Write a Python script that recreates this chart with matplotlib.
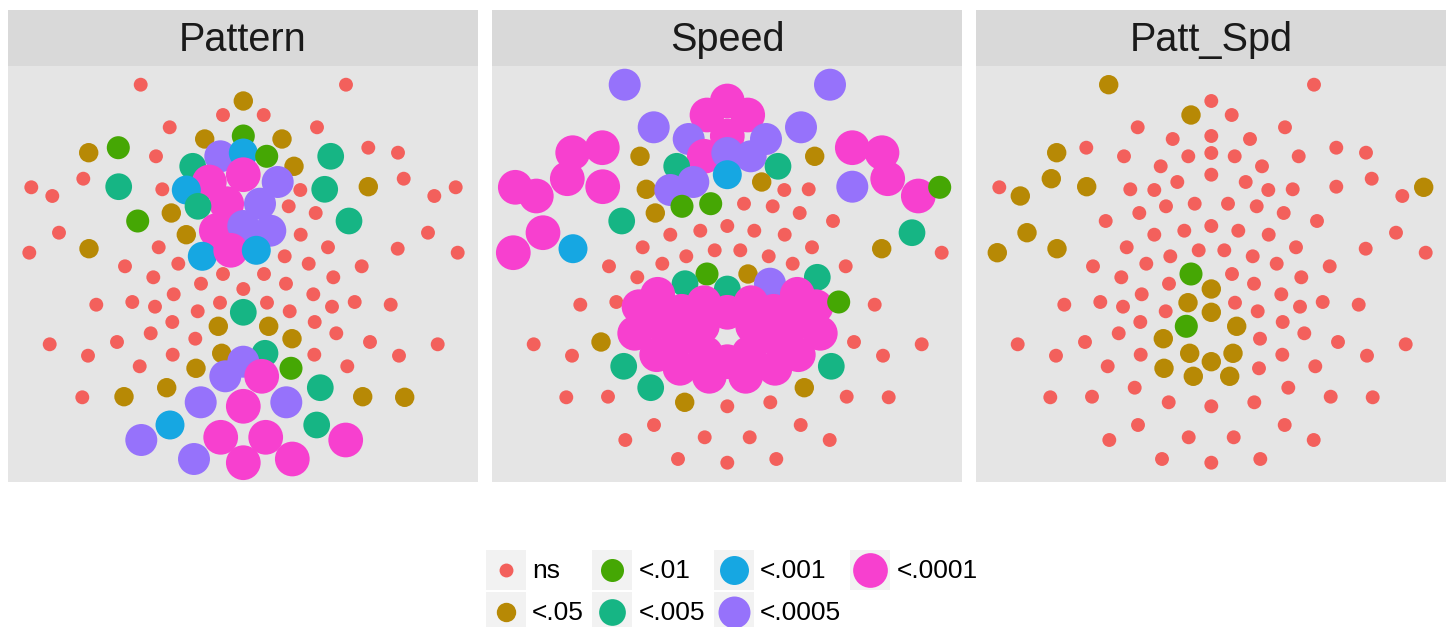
import matplotlib
matplotlib.use('Agg')
import matplotlib.pyplot as plt
from matplotlib.patches import Rectangle

plt.rcParams['font.family'] = ['Liberation Sans', 'DejaVu Sans']

# significance levels, colours and point sizes (pt^2)
levels = ['ns', '<.05', '<.01', '<.005', '<.001', '<.0005', '<.0001']
colors = ['#F3605C', '#B78905', '#45A704', '#16B584', '#16A7E2', '#9672FB', '#F740CF']
sizes = [100, 195, 275, 370, 435, 530, 625]

panels = ['Pattern', 'Speed', 'Patt_Spd']

# electrode layout (128 sites), x to the right, y downwards
elec_x = [132.7, 338.0, 235.3, 215.0, 255.7, 161.7, 309.0, 196.7, 235.3, 274.0,
          80.7, 110.3, 360.3, 390.0, 148.0, 212.3, 235.3, 258.7, 322.7, 184.7,
          286.0, 235.3, 75.3, 395.7, 201.3, 269.7, 23.3, 44.3, 110.7, 154.3,
          178.3, 292.3, 316.7, 360.3, 426.3, 447.7, 218.7, 252.0, 190.0, 280.7,
          163.3, 307.7, 129.7, 341.0, 51.0, 420.0, 178.3, 208.3, 235.3, 262.3,
          292.7, 21.3, 81.0, 150.7, 320.0, 389.7, 449.7, 194.3, 222.7, 248.3,
          276.7, 117.0, 170.3, 300.7, 353.7, 215.0, 256.0, 145.3, 325.3, 193.0,
          278.0, 235.3, 165.7, 305.3, 88.3, 124.3, 147.0, 212.0, 259.0, 324.0,
          346.7, 382.7, 189.7, 235.3, 281.7, 164.3, 306.7, 210.3, 260.7, 142.7,
          328.3, 187.3, 284.0, 41.7, 109.0, 362.0, 429.7, 80.0, 164.7, 213.7,
          257.0, 306.3, 391.0, 235.3, 131.7, 188.0, 283.0, 339.3, 217.3, 253.7,
          158.7, 312.3, 74.3, 116.0, 354.7, 396.7, 192.7, 235.3, 278.3, 162.0,
          308.7, 133.3, 212.7, 257.7, 337.7, 186.0, 235.3, 284.3]
elec_y = [18.7, 18.7, 35.0, 49.0, 49.0, 61.3, 61.3, 73.0, 70.0, 73.0,
          86.7, 81.7, 81.7, 86.7, 90.3, 90.3, 87.0, 90.3, 90.3, 100.3,
          100.3, 108.7, 112.7, 112.7, 116.0, 116.0, 121.3, 130.0, 120.7, 123.3,
          124.0, 124.0, 123.3, 120.7, 130.0, 121.3, 137.7, 137.7, 140.3, 140.3,
          147.0, 147.0, 155.0, 155.0, 166.7, 166.7, 168.7, 164.7, 160.0, 164.7,
          168.7, 186.7, 182.7, 181.3, 181.3, 182.7, 186.7, 190.3, 184.3, 184.3,
          190.3, 200.3, 197.7, 197.7, 200.3, 208.0, 208.0, 211.3, 211.3, 217.7,
          217.7, 223.0, 228.3, 228.3, 238.7, 236.0, 240.7, 236.7, 236.7, 240.7,
          236.0, 238.7, 245.3, 246.3, 245.3, 256.0, 256.0, 260.3, 260.3, 267.3,
          267.3, 272.7, 272.7, 278.3, 276.0, 276.0, 278.3, 289.7, 288.7, 287.3,
          287.3, 288.7, 289.7, 295.7, 300.3, 302.3, 302.3, 300.3, 310.3, 310.3,
          321.7, 321.7, 331.3, 330.7, 330.7, 331.3, 336.3, 340.3, 336.3, 359.0,
          359.0, 374.0, 371.3, 371.3, 374.0, 393.0, 396.7, 393.0]

# level index per electrode for each panel
pattern_sig = [0, 0, 1, 0, 0, 0, 0, 1, 2, 1,
               1, 2, 0, 0, 0, 5, 4, 2, 3, 3,
               1, 6, 0, 0, 6, 5, 0, 0, 3, 0,
               4, 0, 3, 1, 0, 0, 6, 5, 3, 0,
               1, 0, 2, 3, 0, 0, 1, 6, 5, 5,
               0, 0, 1, 0, 0, 0, 0, 4, 6, 4,
               0, 0, 0, 0, 0, 0, 0, 0, 0, 0,
               0, 0, 0, 0, 0, 0, 0, 0, 0, 0,
               0, 0, 0, 3, 0, 0, 0, 1, 1, 0,
               0, 0, 1, 0, 0, 0, 0, 0, 0, 1,
               3, 0, 0, 5, 0, 1, 2, 0, 5, 6,
               1, 3, 0, 1, 1, 1, 5, 6, 5, 4,
               3, 5, 6, 6, 6, 5, 6, 6]
speed_sig = [5, 5, 6, 6, 6, 5, 5, 5, 6, 5,
             6, 6, 6, 6, 1, 6, 5, 5, 1, 3,
             3, 4, 6, 6, 5, 1, 6, 6, 6, 1,
             5, 0, 0, 5, 6, 2, 2, 0, 2, 0,
             1, 0, 3, 0, 6, 3, 0, 0, 0, 0,
             0, 6, 4, 0, 0, 1, 0, 0, 0, 0,
             0, 0, 0, 0, 0, 2, 1, 0, 3, 3,
             5, 3, 6, 6, 0, 0, 6, 6, 6, 6,
             2, 0, 6, 6, 6, 6, 6, 6, 6, 6,
             6, 6, 6, 0, 1, 0, 0, 0, 6, 6,
             6, 6, 0, 6, 3, 6, 6, 3, 6, 6,
             3, 1, 0, 0, 0, 0, 1, 0, 0, 0,
             0, 0, 0, 0, 0, 0, 0, 0]
pattspd_sig = [1, 0, 0, 1, 0, 0, 0, 0, 0, 0,
               1, 0, 0, 0, 0, 0, 0, 0, 0, 0,
               0, 0, 1, 0, 0, 0, 0, 1, 1, 0,
               0, 0, 0, 0, 0, 1, 0, 0, 0, 0,
               0, 0, 0, 0, 1, 0, 0, 0, 0, 0,
               0, 1, 1, 0, 0, 0, 0, 0, 0, 0,
               0, 0, 0, 0, 0, 2, 0, 0, 0, 0,
               0, 1, 0, 0, 0, 0, 0, 1, 0, 0,
               0, 0, 0, 1, 0, 0, 0, 2, 1, 0,
               0, 1, 0, 0, 0, 0, 0, 0, 0, 1,
               1, 0, 0, 1, 0, 1, 0, 0, 1, 1,
               0, 0, 0, 0, 0, 0, 0, 0, 0, 0,
               0, 0, 0, 0, 0, 0, 0, 0]
panel_sig = [pattern_sig, speed_sig, pattspd_sig]

W, H = 1450, 627
fig = plt.figure(figsize=(W / 100, H / 100), dpi=100)


def pbox(x0, y0, x1, y1):
    return [x0 / W, 1 - y1 / H, (x1 - x0) / W, (y1 - y0) / H]


lefts = [8, 492, 976]
for left, name, sig in zip(lefts, panels, panel_sig):
    strip = fig.add_axes(pbox(left, 10, left + 470, 66))
    strip.set_facecolor('#D9D9D9')
    strip.set_xticks([])
    strip.set_yticks([])
    for s in strip.spines.values():
        s.set_visible(False)
    strip.text(0.5, 0.46, name, ha='center', va='center', fontsize=28.5, color='#1A1A1A')

    ax = fig.add_axes(pbox(left, 66, left + 470, 482))
    ax.set_facecolor('#E5E5E5')
    ax.set_xlim(0, 470)
    ax.set_ylim(416, 0)
    ax.set_xticks([])
    ax.set_yticks([])
    for s in ax.spines.values():
        s.set_visible(False)
    ax.scatter(elec_x, elec_y,
               s=[sizes[k] for k in sig],
               c=[colors[k] for k in sig],
               linewidths=0)

# legend drawn by hand, ggplot style key boxes
leg = fig.add_axes([0, 0, 1, 1])
leg.set_xlim(0, W)
leg.set_ylim(H, 0)
leg.axis('off')
key_cols = [(486, 532), (592, 639), (714, 760), (850, 897)]
key_rows = [550, 592]
for i, lab in enumerate(levels):
    col, row = i // 2, i % 2
    kx, tx = key_cols[col]
    ky = key_rows[row]
    leg.add_patch(Rectangle((kx, ky), 40, 40, facecolor='#F2F2F2', edgecolor='none'))
    leg.scatter([kx + 20], [ky + 20], s=sizes[i], c=colors[i], linewidths=0)
    leg.text(tx, ky + 21, lab, ha='left', va='center', fontsize=19, color='black')

fig.savefig('out.png', dpi=100)
